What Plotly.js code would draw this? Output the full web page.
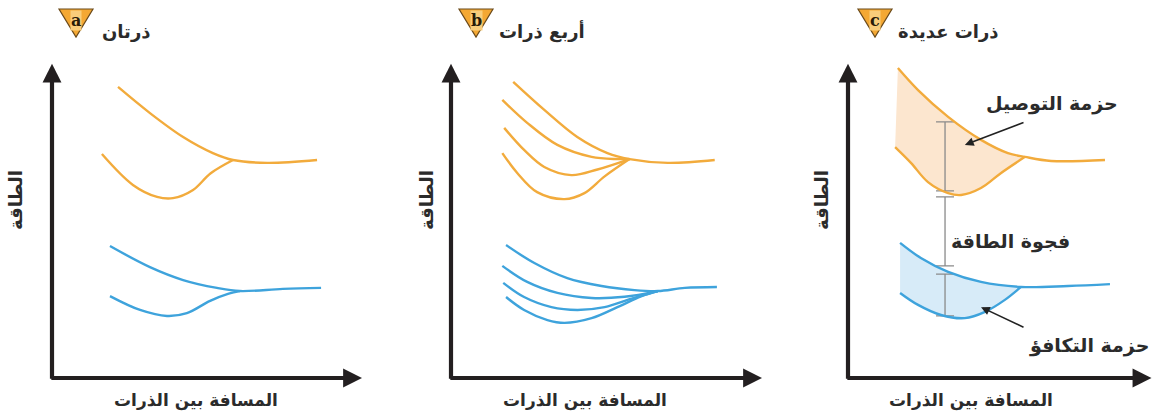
<!DOCTYPE html>
<html><head><meta charset="utf-8">
<script src="https://cdn.plot.ly/plotly-3.0.1.min.js"></script>
<style>html,body{margin:0;padding:0;background:#fff}#chart{width:1152px;height:416px}</style>
</head><body><div id="chart"></div>
<script>
// ---- text ----
const panelLetters = ['a', 'b', 'c'];
const panelTitles = ['ذرتان', 'أربع ذرات', 'ذرات عديدة'];
const yTitle = 'الطاقة';
const xTitle = 'المسافة بين الذرات';
const bandLabels = ['حزمة التوصيل', 'فجوة الطاقة', 'حزمة التكافؤ'];

// ---- panel a : two atoms (distance 0-10, energy 0-10) ----
const aOrangeUpperX = [2.13, 3.16, 4.23, 5.19, 5.84, 6.94, 8.55];
const aOrangeUpperY = [9.24, 8.41, 7.65, 7.14, 6.92, 6.83, 6.92];
const aOrangeLowerX = [1.61, 2.61, 3.39, 3.90, 4.55, 5.12, 5.84];
const aOrangeLowerY = [7.11, 6.13, 5.75, 5.71, 5.97, 6.50, 6.92];
const aBlueUpperX = [1.87, 3.16, 4.23, 5.32, 6.06, 7.45, 8.68];
const aBlueUpperY = [4.19, 3.52, 3.11, 2.86, 2.76, 2.83, 2.86];
const aBlueLowerX = [1.87, 2.84, 3.71, 4.35, 5.10, 5.70, 6.06];
const aBlueLowerY = [2.60, 2.16, 1.97, 2.06, 2.45, 2.68, 2.76];

// ---- panel b : four atoms ----
const bOrange1X = [2.00, 3.00, 4.06, 5.03, 5.74, 6.97, 8.48];
const bOrange1Y = [9.40, 8.51, 7.65, 7.14, 6.95, 6.83, 6.92];
const bOrange2X = [1.65, 2.45, 3.42, 4.52, 5.35, 5.74];
const bOrange2Y = [8.83, 8.10, 7.40, 7.02, 6.95, 6.95];
const bOrange3X = [1.71, 2.35, 3.00, 3.87, 4.71, 5.74];
const bOrange3Y = [7.94, 7.24, 6.70, 6.44, 6.62, 6.95];
const bOrange4X = [1.65, 2.13, 2.77, 3.65, 4.29, 4.94, 5.74];
const bOrange4Y = [7.14, 6.51, 5.90, 5.68, 5.87, 6.40, 6.95];
const bBlue1X = [1.77, 2.68, 3.74, 4.84, 5.90, 6.65, 7.52, 8.55];
const bBlue1Y = [4.22, 3.65, 3.17, 2.92, 2.79, 2.76, 2.86, 2.89];
const bBlue2X = [1.65, 2.45, 3.42, 4.52, 5.58, 6.65];
const bBlue2Y = [3.56, 3.05, 2.70, 2.54, 2.58, 2.76];
const bBlue3X = [1.68, 2.35, 3.23, 4.06, 4.94, 5.81, 6.65];
const bBlue3Y = [3.02, 2.57, 2.25, 2.16, 2.25, 2.52, 2.76];
const bBlue4X = [1.77, 2.35, 3.10, 3.65, 4.52, 5.35, 6.13, 6.65];
const bBlue4Y = [2.57, 2.16, 1.84, 1.75, 1.90, 2.25, 2.60, 2.76];

// ---- panel c : many atoms ----
const cOrangeUpperX = [1.61, 2.26, 3.23, 4.29, 5.16, 5.71, 6.55, 8.29];
const cOrangeUpperY = [9.84, 9.14, 8.29, 7.56, 7.14, 7.02, 6.89, 6.92];
const cOrangeLowerX = [1.52, 2.03, 2.58, 3.23, 3.65, 4.29, 4.94, 5.71];
const cOrangeLowerY = [7.33, 6.83, 6.22, 5.87, 5.81, 6.03, 6.51, 7.02];
const cBlueUpperX = [1.68, 2.35, 3.23, 4.29, 5.58, 7.10, 8.45];
const cBlueUpperY = [4.29, 3.81, 3.37, 3.05, 2.89, 2.92, 2.98];
const cBlueLowerX = [1.68, 2.26, 3.00, 3.77, 4.42, 5.06, 5.58];
const cBlueLowerY = [2.70, 2.32, 2.00, 1.90, 2.10, 2.48, 2.89];

// energy-level bars in panel c: [top, bottom] of conduction, gap, valence
const levelX = 3.13;
const levelTops = [8.13, 5.75, 3.30];
const levelBottoms = [5.94, 3.56, 1.97];

// label arrows in panel c: tail -> head
const condArrowTail = [5.71, 8.13], condArrowHead = [3.77, 7.40];
const valArrowTail = [5.71, 1.59], valArrowHead = [4.29, 2.25];

// ---- styles ----
const ORANGE = '#f2ab3c', BLUE = '#3ea3dc', AXIS = '#231f20', TXT = '#2b2b2b';
const FONT = 'DejaVu Sans';
const W = 1152, H = 416;
const px = v => v / W, py = v => 1 - v / H;

const traces = [];
function line(x, y, color, k) {
  traces.push({x, y, xaxis: 'x' + k, yaxis: 'y' + k, mode: 'lines', type: 'scatter',
    line: {color, width: 2.4, shape: 'spline', smoothing: 1.0}, hoverinfo: 'skip'});
}
function band(ux, uy, lx, ly, color, k) {
  const n = lx.length;
  const mergeX = lx[n - 1];
  const xs = [], ys = [];
  for (let i = 0; i < ux.length; i++) if (ux[i] <= mergeX + 1e-9) { xs.push(ux[i]); ys.push(uy[i]); }
  for (let i = n - 1; i >= 0; i--) { xs.push(lx[i]); ys.push(ly[i]); }
  traces.push({x: xs, y: ys, xaxis: 'x' + k, yaxis: 'y' + k, mode: 'lines', type: 'scatter',
    fill: 'toself', fillcolor: color, line: {width: 0, shape: 'spline'}, hoverinfo: 'skip'});
}

// fills (panel c) first
band(cOrangeUpperX, cOrangeUpperY, cOrangeLowerX, cOrangeLowerY, '#fce6cf', '3');
band(cBlueUpperX, cBlueUpperY, cBlueLowerX, cBlueLowerY, '#d7ebf8', '3');

// level bars via error bars
traces.push({
  x: levelTops.map(() => levelX),
  y: levelTops.map((t, i) => (t + levelBottoms[i]) / 2),
  xaxis: 'x3', yaxis: 'y3', type: 'scatter', mode: 'markers',
  marker: {size: 1, color: 'rgba(0,0,0,0)'}, hoverinfo: 'skip',
  error_y: {type: 'data', symmetric: true, array: levelTops.map((t, i) => (t - levelBottoms[i]) / 2),
    color: '#8a8a8a', thickness: 1.3, width: 9}
});

line(aOrangeUpperX, aOrangeUpperY, ORANGE, '');
line(aOrangeLowerX, aOrangeLowerY, ORANGE, '');
line(aBlueUpperX, aBlueUpperY, BLUE, '');
line(aBlueLowerX, aBlueLowerY, BLUE, '');

[[bOrange1X, bOrange1Y], [bOrange2X, bOrange2Y], [bOrange3X, bOrange3Y], [bOrange4X, bOrange4Y]]
  .forEach(([x, y]) => line(x, y, ORANGE, '2'));
[[bBlue1X, bBlue1Y], [bBlue2X, bBlue2Y], [bBlue3X, bBlue3Y], [bBlue4X, bBlue4Y]]
  .forEach(([x, y]) => line(x, y, BLUE, '2'));

line(cOrangeUpperX, cOrangeUpperY, ORANGE, '3');
line(cOrangeLowerX, cOrangeLowerY, ORANGE, '3');
line(cBlueUpperX, cBlueUpperY, BLUE, '3');
line(cBlueLowerX, cBlueLowerY, BLUE, '3');

// ---- axes ----
const hidden = {visible: false, fixedrange: true};
const yDom = [38 / H, 353 / H];
const layout = {
  width: W, height: H, margin: {l: 0, r: 0, t: 0, b: 0},
  paper_bgcolor: '#fff', plot_bgcolor: 'rgba(0,0,0,0)', showlegend: false,
  xaxis: Object.assign({domain: [52 / W, 362 / W], range: [0, 10], anchor: 'y'}, hidden),
  yaxis: Object.assign({domain: yDom, range: [0, 10], anchor: 'x'}, hidden),
  xaxis2: Object.assign({domain: [451 / W, 762 / W], range: [0, 10], anchor: 'y2'}, hidden),
  yaxis2: Object.assign({domain: yDom, range: [0, 10], anchor: 'x2'}, hidden),
  xaxis3: Object.assign({domain: [848 / W, 1], range: [0, 304 / 31], anchor: 'y3'}, hidden),
  yaxis3: Object.assign({domain: yDom, range: [0, 10], anchor: 'x3'}, hidden),
  annotations: [], shapes: []
};

const axisKeys = ['', '2', '3'];
const xTips = [10, 10, 9.79];
axisKeys.forEach((k, i) => {
  const base = {xref: 'x' + k, yref: 'y' + k, axref: 'x' + k, ayref: 'y' + k, text: '', showarrow: true,
    arrowhead: 2, arrowwidth: 4.2, arrowsize: 0.9, arrowcolor: AXIS, standoff: 0};
  layout.annotations.push(Object.assign({}, base, {x: 0, y: 9.98, ax: 0, ay: -0.07}));
  layout.annotations.push(Object.assign({}, base, {x: xTips[i], y: 0, ax: -0.07, ay: 0}));
});

// panel titles, badges and axis titles
const badgeCx = [76, 476, 875];
const titleCx = [126, 542, 948];
const yTitleX = [15, 426, 821];
const xTitleCx = [196, 585, 971];
const bold = s => '<b>' + s + '</b>';
for (let i = 0; i < 3; i++) {
  const cx = badgeCx[i];
  layout.shapes.push({type: 'path', xref: 'paper', yref: 'paper',
    path: `M ${px(cx - 17)} ${py(9)} L ${px(cx + 17)} ${py(9)} L ${px(cx)} ${py(37)} Z`,
    fillcolor: '#f4a833', line: {color: '#6b4a1a', width: 1.2}});
  layout.annotations.push({xref: 'paper', yref: 'paper', x: px(cx), y: py(20), text: bold(panelLetters[i]),
    showarrow: false, font: {family: 'DejaVu Serif', size: 16, color: '#2a1c08'}, bgcolor: '#f9cd7a',
    borderpad: 0, xanchor: 'center', yanchor: 'middle'});
  layout.annotations.push({xref: 'paper', yref: 'paper', x: px(titleCx[i]), y: py(32), text: bold(panelTitles[i]),
    showarrow: false, font: {family: FONT, size: 18, color: TXT}, xanchor: 'center', yanchor: 'middle'});
  layout.annotations.push({xref: 'paper', yref: 'paper', x: px(yTitleX[i]), y: py(200), text: bold(yTitle), textangle: -90,
    showarrow: false, font: {family: FONT, size: 18, color: TXT}, xanchor: 'center', yanchor: 'middle'});
  layout.annotations.push({xref: 'paper', yref: 'paper', x: px(xTitleCx[i]), y: py(400), text: bold(xTitle),
    showarrow: false, font: {family: FONT, size: 17, color: TXT}, xanchor: 'center', yanchor: 'middle'});
}

// band labels in panel c
layout.annotations.push({xref: 'paper', yref: 'paper', x: px(1052), y: py(103), text: bold(bandLabels[0]), showarrow: false,
  font: {family: FONT, size: 19, color: TXT}, xanchor: 'center', yanchor: 'middle'});
layout.annotations.push({xref: 'paper', yref: 'paper', x: px(1010), y: py(241), text: bold(bandLabels[1]), showarrow: false,
  font: {family: FONT, size: 19, color: TXT}, xanchor: 'center', yanchor: 'middle'});
layout.annotations.push({xref: 'paper', yref: 'paper', x: px(1151), y: py(345), text: bold(bandLabels[2]), showarrow: false,
  font: {family: FONT, size: 19, color: TXT}, xanchor: 'right', yanchor: 'middle'});
[[condArrowTail, condArrowHead], [valArrowTail, valArrowHead]].forEach(([t, h]) => {
  layout.annotations.push({xref: 'x3', yref: 'y3', axref: 'x3', ayref: 'y3', x: h[0], y: h[1], ax: t[0], ay: t[1],
    text: '', showarrow: true, arrowhead: 2, arrowwidth: 1.6, arrowsize: 1.1, arrowcolor: '#222'});
});

Plotly.newPlot('chart', traces, layout, {displayModeBar: false, staticPlot: true});
</script></body></html>
